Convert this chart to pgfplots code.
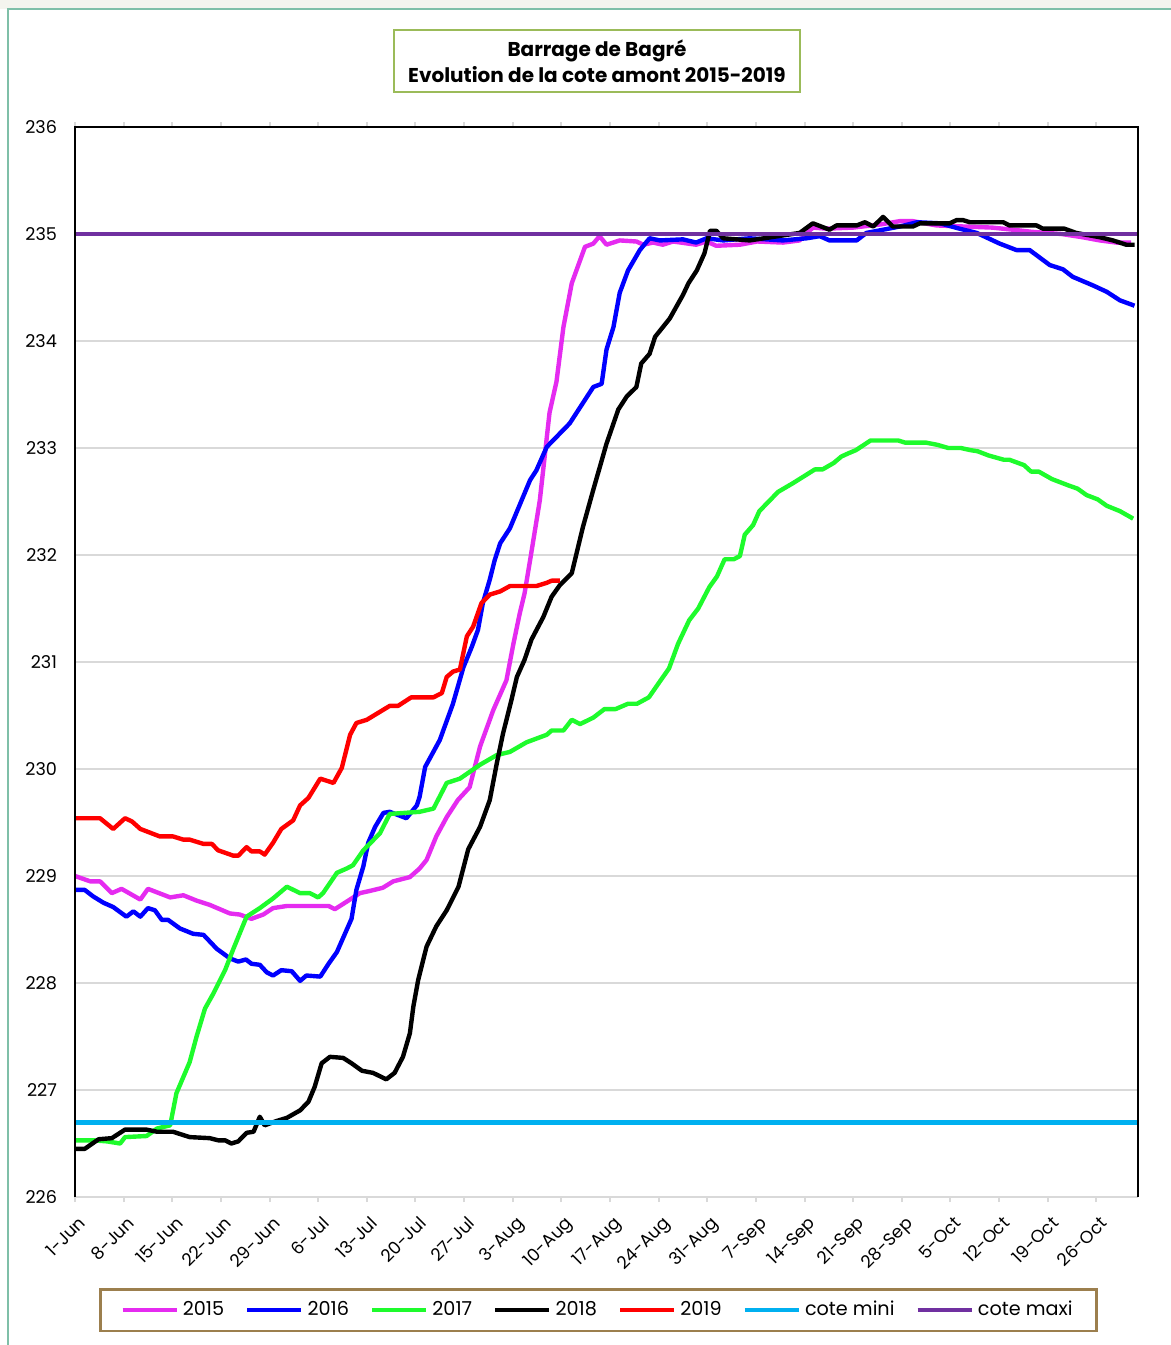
\documentclass[border=0pt]{standalone}
\usepackage{pgfplots}
\pgfplotsset{compat=1.18}
\usepackage{fontspec}
\setmainfont{Poppins}
\definecolor{c2015}{HTML}{E52BF0}
\definecolor{c2016}{HTML}{0000FF}
\definecolor{c2017}{HTML}{1EFB2C}
\definecolor{c2019}{HTML}{FF0000}
\definecolor{cmini}{HTML}{00B0F0}
\definecolor{cmaxi}{HTML}{7030A0}
\definecolor{titlebox}{HTML}{9BBB59}
\definecolor{legbox}{HTML}{9C7F4E}
\definecolor{framec}{HTML}{7FBFA8}
\definecolor{gridc}{HTML}{D9D9D9}
\definecolor{topbg}{HTML}{F4F4EE}
\begin{document}
\begin{tikzpicture}
\useasboundingbox (0,0) rectangle (585.5pt,-672.5pt);
\fill[topbg] (0,0) rectangle (585.5pt,-4.5pt);
\draw[framec, line width=1pt] (4pt,-672.5pt) -- (4pt,-4.5pt) -- (585.5pt,-4.5pt);
\begin{axis}[
  at={(37.5pt,-598.5pt)}, anchor=south west,
  scale only axis, width=531.5pt, height=535pt,
  xmin=0, xmax=153, ymin=226, ymax=236,
  axis line style={draw=none},
  ytick={226,227,...,236},
  ymajorgrids, grid style={gridc, line width=1pt},
  ytick style={draw=none},
  xtick={0,7,...,147},
  xticklabels={1-Jun,8-Jun,15-Jun,22-Jun,29-Jun,6-Jul,13-Jul,20-Jul,27-Jul,3-Aug,10-Aug,17-Aug,24-Aug,31-Aug,7-Sep,14-Sep,21-Sep,28-Sep,5-Oct,12-Oct,19-Oct,26-Oct},
  xtick style={draw=gridc, line width=1pt},
  tick align=outside, major tick length=2.5pt,
  xticklabel style={rotate=45, anchor=north east, font=\fontsize{8.7}{10}\selectfont, inner sep=1pt, xshift=-2.5pt, yshift=-4.5pt},
  yticklabel style={font=\fontsize{8.8}{10}\selectfont, xshift=-3pt},
  /pgf/number format/assume math mode=true,
  every axis plot/.append style={line width=2.2pt, line join=round, no markers},
  legend columns=-1,
  legend style={at={(0.4925,-0.1056)}, anchor=center, draw=legbox, line width=1.3pt,
    font=\fontsize{9.6}{10}\selectfont, inner xsep=10pt, inner ysep=4pt,
    /tikz/every even column/.append style={column sep=8.5pt}},
  legend image code/.code={\draw[#1, line width=2.2pt] (2pt,0pt) -- (29pt,0pt);},
  clip=false,
]
\addplot[c2015] coordinates {
(0,229.00) (2.2,228.95) (3.6,228.95) (5.3,228.84) (6.7,228.88) (9.4,228.78) (10.5,228.88) (13.7,228.80) (15.6,228.82) (17.5,228.77) (19.4,228.73) (22.3,228.65) (23.7,228.64) (25.4,228.60) (27.1,228.64) (28.5,228.70) (30.5,228.72) (36.5,228.72) (37.4,228.69) (39.1,228.76) (41.0,228.84) (42.4,228.86) (44.3,228.89) (45.8,228.95) (48.2,228.99) (49.6,229.07) (50.6,229.15) (52.0,229.37) (53.5,229.55) (55.1,229.71) (56.8,229.83) (58.3,230.21) (60.2,230.55) (62.1,230.83) (63.1,231.17) (64.0,231.45) (64.7,231.64) (65.5,231.95) (66.9,232.51) (68.3,233.33) (69.3,233.62) (70.3,234.13) (71.5,234.54) (73.4,234.88) (74.6,234.91) (75.5,234.98) (76.5,234.90) (78.4,234.94) (80.8,234.93) (81.8,234.90) (83.2,234.92) (84.6,234.90) (86.1,234.93) (89.4,234.90) (90.9,234.93) (92.3,234.89) (95.7,234.90) (98.2,234.93) (101.9,234.92) (104.3,234.94) (106.2,235.06) (108.2,235.05) (112,235.06) (116,235.09) (118.7,235.12) (120.6,235.12) (124,235.08) (128,235.07) (132,235.06) (135,235.04) (137.8,235.02) (142,235.00) (145,234.97) (147.5,234.94) (149.9,234.92) (152,234.92)
};
\addlegendentry{2015}
\addplot[c2016] coordinates {
(0,228.87) (1.4,228.87) (2.6,228.81) (4.1,228.75) (5.5,228.71) (7.4,228.62) (8.4,228.67) (9.4,228.62) (10.5,228.70) (11.5,228.68) (12.5,228.59) (13.4,228.59) (15.1,228.51) (17.0,228.46) (18.5,228.45) (20.4,228.32) (22.3,228.23) (23.5,228.20) (24.6,228.22) (25.4,228.18) (26.6,228.17) (27.6,228.10) (28.5,228.07) (29.7,228.12) (31.2,228.11) (32.4,228.02) (33.3,228.07) (35.3,228.06) (36.5,228.18) (37.7,228.29) (39.8,228.60) (40.5,228.87) (41.5,229.09) (42.2,229.31) (43.2,229.46) (44.4,229.59) (45.3,229.60) (47.7,229.54) (49.2,229.66) (49.6,229.74) (50.4,230.02) (52.5,230.27) (54.4,230.61) (55.9,230.95) (57.1,231.14) (58.0,231.30) (58.7,231.55) (59.7,231.77) (60.4,231.95) (61.2,232.11) (62.6,232.25) (65.5,232.70) (66.4,232.79) (67.9,233.01) (71.2,233.23) (74.6,233.57) (75.8,233.60) (76.5,233.92) (77.5,234.13) (78.4,234.45) (79.6,234.66) (81.3,234.85) (82.7,234.96) (84.2,234.94) (87.5,234.95) (89.4,234.92) (90.9,234.96) (93.3,234.94) (97.1,234.96) (101.9,234.94) (105.3,234.96) (107.2,234.98) (108.6,234.94) (112.5,234.94) (113.9,235.01) (118.7,235.07) (121.2,235.11) (124.5,235.10) (127.3,235.05) (129.8,235.01) (133.1,234.91) (135.5,234.85) (137.4,234.85) (140.3,234.71) (142.2,234.67) (143.6,234.60) (146.5,234.52) (148.5,234.46) (150.4,234.38) (152.5,234.33)
};
\addlegendentry{2016}
\addplot[c2017] coordinates {
(0,226.53) (2.6,226.53) (4.6,226.52) (6.5,226.50) (7.2,226.56) (10.3,226.57) (11.8,226.64) (13.7,226.67) (14.6,226.97) (16.5,227.26) (17.5,227.50) (18.7,227.76) (19.9,227.90) (21.6,228.12) (22.8,228.32) (24.7,228.62) (26.6,228.70) (28.5,228.79) (30.5,228.90) (32.4,228.84) (33.8,228.84) (35.0,228.80) (35.7,228.84) (37.7,229.03) (39.1,229.07) (40.0,229.10) (41.5,229.24) (43.9,229.40) (45.3,229.58) (49.6,229.60) (51.6,229.63) (53.5,229.87) (55.4,229.91) (58.3,230.04) (60.7,230.13) (62.6,230.16) (65.0,230.25) (67.9,230.32) (68.6,230.36) (70.3,230.36) (71.5,230.46) (72.7,230.42) (74.6,230.48) (76.2,230.56) (77.8,230.56) (79.6,230.61) (80.9,230.61) (82.6,230.67) (84.2,230.82) (85.5,230.94) (86.8,231.17) (88.4,231.39) (89.7,231.50) (91.3,231.70) (92.4,231.80) (93.5,231.96) (94.8,231.96) (95.7,231.99) (96.4,232.19) (97.6,232.28) (98.5,232.41) (101.2,232.59) (103.3,232.67) (106.5,232.80) (107.6,232.80) (109.2,232.86) (110.3,232.92) (111.3,232.95) (112.4,232.98) (114.5,233.07) (118.5,233.07) (119.5,233.05) (122.5,233.05) (124.1,233.03) (125.7,233.00) (127.5,233.00) (128.9,232.98) (129.9,232.97) (131.5,232.93) (133.7,232.89) (134.5,232.89) (136.6,232.84) (137.6,232.78) (138.7,232.78) (140.6,232.71) (143.0,232.65) (144.3,232.62) (145.6,232.56) (147.2,232.52) (148.5,232.46) (150.4,232.41) (152.3,232.34)
};
\addlegendentry{2017}
\addplot[black] coordinates {
(0,226.45) (1.4,226.45) (3.4,226.54) (5.3,226.55) (7.2,226.63) (10.3,226.63) (11.8,226.61) (14.1,226.61) (16.5,226.56) (19.4,226.55) (20.6,226.53) (21.6,226.53) (22.5,226.50) (23.5,226.52) (24.7,226.60) (25.7,226.61) (26.6,226.75) (27.3,226.67) (29.0,226.71) (30.5,226.74) (32.4,226.81) (33.6,226.89) (34.5,227.03) (35.5,227.25) (36.7,227.31) (38.6,227.30) (39.8,227.25) (41.3,227.18) (42.9,227.16) (44.8,227.10) (46.0,227.16) (47.2,227.31) (48.2,227.53) (48.7,227.78) (49.4,228.03) (50.6,228.34) (52.0,228.53) (53.5,228.68) (55.2,228.90) (56.6,229.25) (58.3,229.46) (59.7,229.71) (60.7,230.05) (61.6,230.33) (62.8,230.64) (63.6,230.86) (64.7,231.02) (65.7,231.21) (67.4,231.42) (68.6,231.61) (69.8,231.72) (71.5,231.83) (73.1,232.26) (74.6,232.61) (76.5,233.04) (78.2,233.36) (79.4,233.48) (80.8,233.57) (81.5,233.79) (82.7,233.88) (83.5,234.04) (85.6,234.21) (87.5,234.43) (88.3,234.54) (89.5,234.66) (90.6,234.82) (91.4,235.03) (92.3,235.03) (93.3,234.96) (97.1,234.94) (104.3,235.01) (106.2,235.10) (108.6,235.04) (109.6,235.08) (112.5,235.08) (113.7,235.11) (114.9,235.07) (116.3,235.16) (117.7,235.07) (120.6,235.07) (121.6,235.10) (125.9,235.10) (126.9,235.13) (127.8,235.13) (128.8,235.11) (133.6,235.11) (134.5,235.08) (138.4,235.08) (139.3,235.05) (142.4,235.05) (144.1,235.01) (147.5,234.97) (149.4,234.94) (151.3,234.90) (152.5,234.90)
};
\addlegendentry{2018}
\addplot[c2019] coordinates {
(0,229.54) (3.6,229.54) (5.5,229.44) (7.2,229.54) (8.2,229.51) (9.4,229.44) (12.2,229.37) (14.1,229.37) (15.6,229.34) (16.5,229.34) (18.5,229.30) (19.7,229.30) (20.6,229.24) (22.8,229.19) (23.5,229.19) (24.7,229.27) (25.4,229.23) (26.6,229.23) (27.3,229.20) (28.5,229.31) (29.7,229.44) (31.4,229.52) (32.4,229.66) (33.6,229.73) (35.3,229.91) (37.2,229.87) (38.4,230.01) (39.6,230.32) (40.5,230.43) (42.0,230.46) (45.3,230.59) (46.5,230.59) (48.4,230.67) (51.6,230.67) (52.8,230.71) (53.5,230.86) (54.4,230.91) (55.4,230.93) (56.4,231.24) (57.3,231.33) (58.5,231.55) (59.7,231.63) (61.2,231.66) (62.6,231.71) (66.4,231.71) (67.9,231.74) (68.6,231.76) (69.8,231.76)
};
\addlegendentry{2019}
\addplot[cmini, line width=2.4pt] coordinates {(0,226.70) (153,226.70)};
\addlegendentry{cote mini}
\addplot[cmaxi, line width=2.4pt] coordinates {(0,235.00) (153,235.00)};
\addlegendentry{cote maxi}
\draw[gridc, line width=1pt] (rel axis cs:0,0) -- (rel axis cs:1,0);
\draw[black, line width=1.2pt] (rel axis cs:0,0) -- (rel axis cs:0,1) -- (rel axis cs:1,1) -- (rel axis cs:1,0);
\end{axis}
\node[draw=titlebox, line width=1.2pt, minimum width=203pt, minimum height=31pt, align=center, font=\bfseries\fontsize{10}{13}\selectfont, inner sep=0pt] at (298.5pt,-30.5pt) {Barrage de Bagré\\Evolution de la cote amont 2015-2019};
\end{tikzpicture}
\end{document}
